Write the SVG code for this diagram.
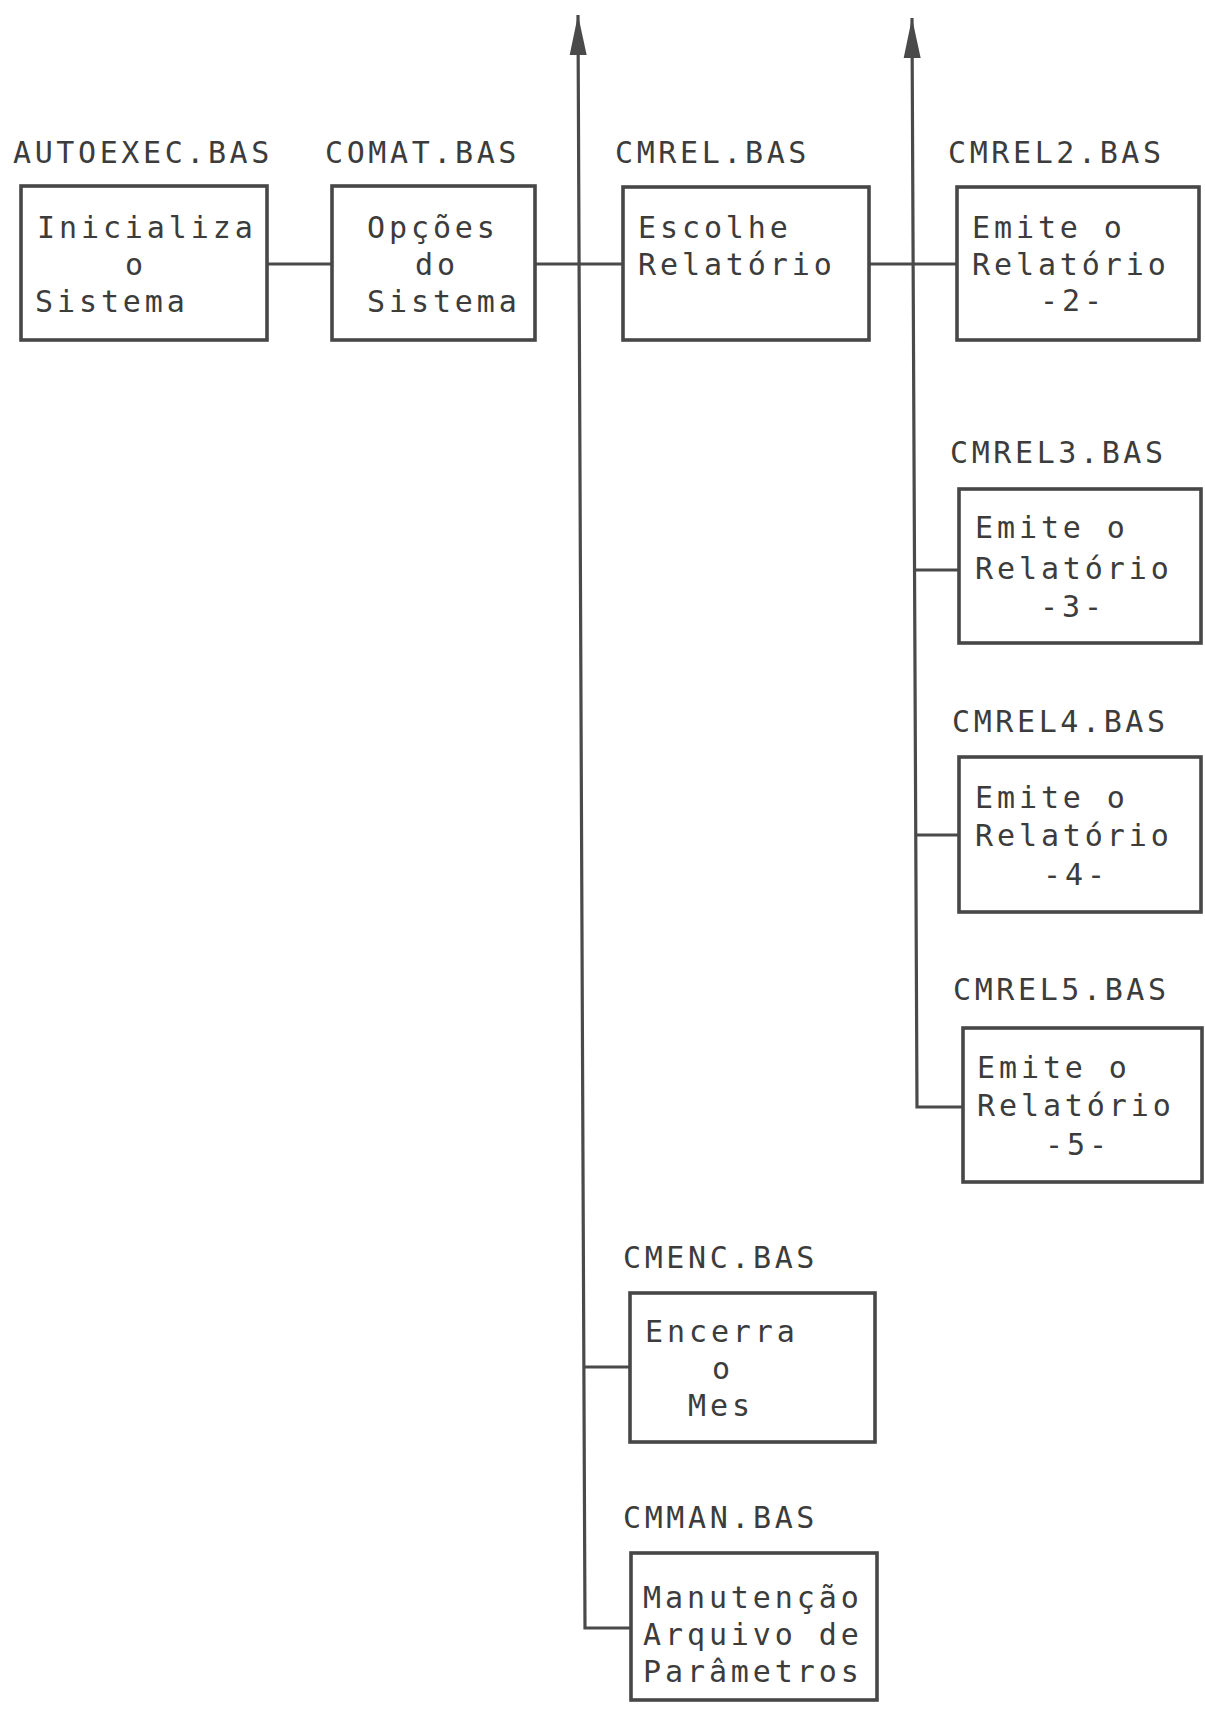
<svg xmlns="http://www.w3.org/2000/svg" width="1205" height="1713" viewBox="0 0 1205 1713">
<defs>
<style>
.box{fill:#fff;stroke:#474747;stroke-width:3.6}
.lbl{font-family:"DejaVu Sans Mono","Liberation Mono",monospace;font-size:30px;letter-spacing:3.6px;fill:#3c3c3c}
.txt{font-family:"DejaVu Sans Mono","Liberation Mono",monospace;font-size:30px;letter-spacing:3.9px;fill:#3c3c3c}
.con{fill:none;stroke:#4a4a4a;stroke-width:3.2;stroke-linejoin:miter}
</style>
<marker id="arr" markerUnits="userSpaceOnUse" markerWidth="50" markerHeight="24" viewBox="-42 -12 44 24" refX="0" refY="0" orient="auto">
<path d="M0,0 L-40,-8.5 L-40,8.5 Z" fill="#4a4a4a"/>
</marker>
</defs>
<rect width="1205" height="1713" fill="#fff"/>
<g id="connectors">
<line class="con" x1="267" y1="264" x2="332" y2="264"/>
<line class="con" x1="535" y1="264" x2="623" y2="264"/>
<line class="con" x1="869" y1="264" x2="957" y2="264"/>
<path class="con" d="M631,1628 L585,1628 L578,15" marker-end="url(#arr)"/>
<line class="con" x1="584" y1="1367" x2="630" y2="1367"/>
<path class="con" d="M963,1107 L917,1107 L912,18" marker-end="url(#arr)"/>
<line class="con" x1="914.5" y1="570" x2="959" y2="570"/>
<line class="con" x1="915.8" y1="835" x2="959" y2="835"/>
</g>
<g id="autoexec">
<text class="lbl" x="13" y="163">AUTOEXEC.BAS</text>
<rect class="box" x="21" y="186" width="246" height="154"/>
<text class="txt" x="37" y="238">Inicializa</text>
<text class="txt" x="125" y="275">o</text>
<text class="txt" x="35" y="312">Sistema</text>
</g>
<g id="comat">
<text class="lbl" x="325" y="163">COMAT.BAS</text>
<rect class="box" x="332" y="186" width="203" height="154"/>
<text class="txt" x="367" y="238">Opções</text>
<text class="txt" x="415" y="275">do</text>
<text class="txt" x="367" y="312">Sistema</text>
</g>
<g id="cmrel">
<text class="lbl" x="615" y="163">CMREL.BAS</text>
<rect class="box" x="623" y="187" width="246" height="153"/>
<text class="txt" x="638" y="238">Escolhe</text>
<text class="txt" x="638" y="275">Relatório</text>
</g>
<g id="cmrel2">
<text class="lbl" x="948" y="163">CMREL2.BAS</text>
<rect class="box" x="957" y="187" width="242" height="153"/>
<text class="txt" x="972" y="238">Emite o</text>
<text class="txt" x="972" y="275">Relatório</text>
<text class="txt" x="1040" y="311">-2-</text>
</g>
<g id="cmrel3">
<text class="lbl" x="950" y="463">CMREL3.BAS</text>
<rect class="box" x="959" y="489" width="242" height="154"/>
<text class="txt" x="975" y="538">Emite o</text>
<text class="txt" x="975" y="579">Relatório</text>
<text class="txt" x="1040" y="617">-3-</text>
</g>
<g id="cmrel4">
<text class="lbl" x="952" y="732">CMREL4.BAS</text>
<rect class="box" x="959" y="757" width="242" height="155"/>
<text class="txt" x="975" y="808">Emite o</text>
<text class="txt" x="975" y="846">Relatório</text>
<text class="txt" x="1043" y="885">-4-</text>
</g>
<g id="cmrel5">
<text class="lbl" x="953" y="1000">CMREL5.BAS</text>
<rect class="box" x="963" y="1028" width="239" height="154"/>
<text class="txt" x="977" y="1078">Emite o</text>
<text class="txt" x="977" y="1116">Relatório</text>
<text class="txt" x="1045" y="1155">-5-</text>
</g>
<g id="cmenc">
<text class="lbl" x="623" y="1268">CMENC.BAS</text>
<rect class="box" x="630" y="1293" width="245" height="149"/>
<text class="txt" x="645" y="1342">Encerra</text>
<text class="txt" x="712" y="1379">o</text>
<text class="txt" x="688" y="1416">Mes</text>
</g>
<g id="cmman">
<text class="lbl" x="623" y="1528">CMMAN.BAS</text>
<rect class="box" x="631" y="1553" width="246" height="147"/>
<text class="txt" x="643" y="1608">Manutenção</text>
<text class="txt" x="643" y="1645">Arquivo de</text>
<text class="txt" x="643" y="1682">Parâmetros</text>
</g>
</svg>
